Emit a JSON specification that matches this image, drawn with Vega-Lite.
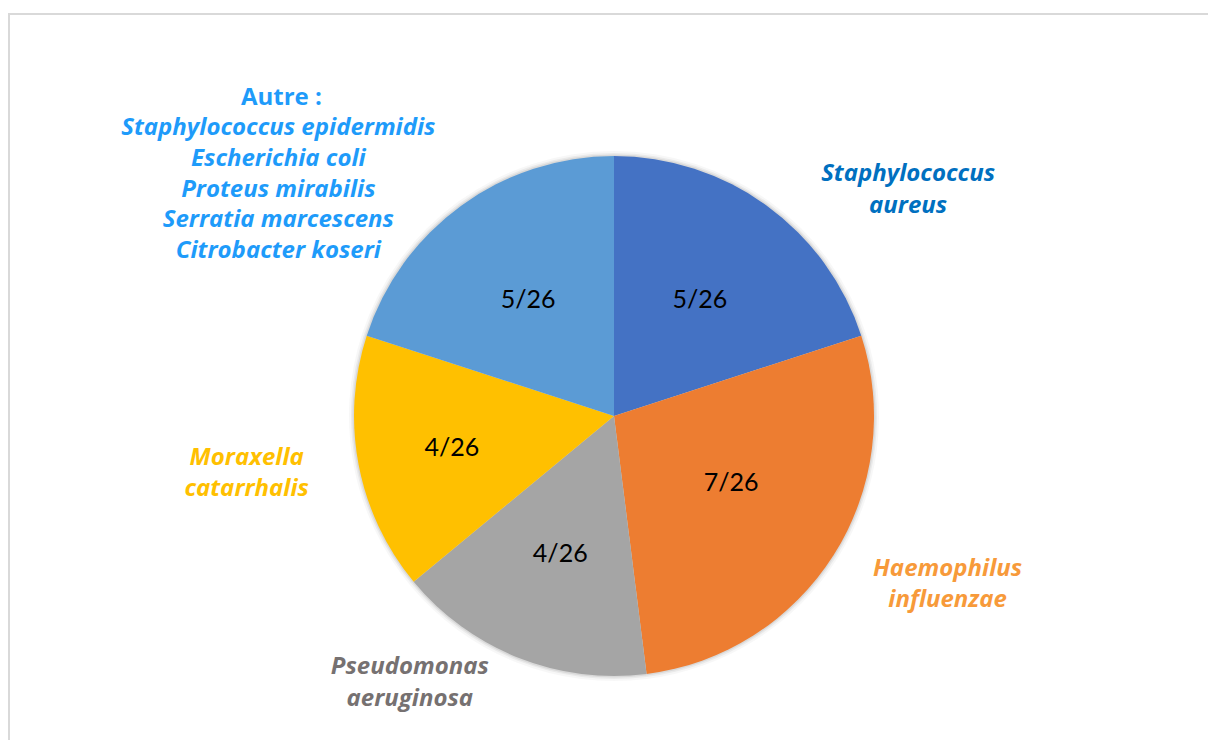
{
  "$schema": "https://vega.github.io/schema/vega-lite/v6.json",
  "width": 1210,
  "height": 804,
  "autosize": {"type": "none"},
  "padding": {"left": 9, "top": 14, "right": -11, "bottom": -78},
  "background": "white",
  "config": {"view": {"stroke": null}, "text": {"font": "Lato"}},
  "data": {"values": [
    {"name": "Staphylococcus aureus", "value": 5, "ord": 1, "frac": "5/26", "label": "Staphylococcus\naureus"},
    {"name": "Haemophilus influenzae", "value": 7, "ord": 2, "frac": "7/26", "label": "Haemophilus\ninfluenzae"},
    {"name": "Pseudomonas aeruginosa", "value": 4, "ord": 3, "frac": "4/26", "label": "Pseudomonas\naeruginosa"},
    {"name": "Moraxella catarrhalis", "value": 4, "ord": 4, "frac": "4/26", "label": "Moraxella\ncatarrhalis"},
    {"name": "Autre", "value": 5, "ord": 5, "frac": "5/26", "header": "Autre :", "label": "Staphylococcus epidermidis\nEscherichia coli\nProteus mirabilis\nSerratia marcescens\nCitrobacter koseri"}
  ]},
  "layer": [
    {
      "data": {"values": [{"frame": 1}]},
      "mark": {"type": "rect", "fill": null, "stroke": "#d9d9d9", "strokeWidth": 2},
      "encoding": {}
    },
    {
      "encoding": {
        "theta": {"field": "value", "type": "quantitative", "stack": true},
        "order": {"field": "ord", "type": "quantitative"}
      },
      "layer": [
        {"mark": {"type": "arc", "outerRadius": 265, "color": "#000000", "opacity": 0.03}},
        {"mark": {"type": "arc", "outerRadius": 263, "color": "#000000", "opacity": 0.05}},
        {"mark": {"type": "arc", "outerRadius": 261.5, "color": "#000000", "opacity": 0.07}},
        {
          "mark": {"type": "arc", "outerRadius": 260},
          "encoding": {
            "color": {"field": "name", "type": "nominal", "legend": null,
              "scale": {"domain": ["Staphylococcus aureus", "Haemophilus influenzae", "Pseudomonas aeruginosa", "Moraxella catarrhalis", "Autre"],
                        "range": ["#4472C4", "#ED7D31", "#A5A5A5", "#FFC000", "#5B9BD5"]}}
          }
        },
        {
          "mark": {"type": "text", "radius": 146, "dy": 2, "fontSize": 25, "color": "#000000", "baseline": "middle", "align": "center"},
          "encoding": {"text": {"condition": {"test": "datum.ord === 1 || datum.ord === 3 || datum.ord === 5", "field": "frac"}, "value": ""}}
        },
        {
          "mark": {"type": "text", "radius": 134, "dx": 4, "dy": -5, "fontSize": 25, "color": "#000000", "baseline": "middle", "align": "center"},
          "encoding": {"text": {"condition": {"test": "datum.ord === 2", "field": "frac"}, "value": ""}}
        },
        {
          "mark": {"type": "text", "radius": 165, "dy": 1, "fontSize": 25, "color": "#000000", "baseline": "middle", "align": "center"},
          "encoding": {"text": {"condition": {"test": "datum.ord === 4", "field": "frac"}, "value": ""}}
        },
        {
          "mark": {"type": "text", "radius": 355.7, "dx": 85, "dy": 46, "font": "Open Sans", "fontSize": 24, "fontWeight": "bold", "fontStyle": "italic", "color": "#0070C0", "baseline": "middle", "align": "center", "lineBreak": "\n", "lineHeight": 31.5},
          "encoding": {"text": {"condition": {"test": "datum.ord === 1", "field": "label"}, "value": ""}}
        },
        {
          "mark": {"type": "text", "radius": 372.6, "dx": 19, "dy": -47, "font": "Open Sans", "fontSize": 24, "fontWeight": "bold", "fontStyle": "italic", "color": "#F79A3A", "baseline": "middle", "align": "center", "lineBreak": "\n", "lineHeight": 31.5},
          "encoding": {"text": {"condition": {"test": "datum.ord === 2", "field": "label"}, "value": ""}}
        },
        {
          "mark": {"type": "text", "radius": 323.8, "dx": -85, "dy": -50.5, "font": "Open Sans", "fontSize": 24, "fontWeight": "bold", "fontStyle": "italic", "color": "#767171", "baseline": "middle", "align": "center", "lineBreak": "\n", "lineHeight": 32.5},
          "encoding": {"text": {"condition": {"test": "datum.ord === 3", "field": "label"}, "value": ""}}
        },
        {
          "mark": {"type": "text", "radius": 371.9, "dx": -2, "dy": -28, "font": "Open Sans", "fontSize": 24, "fontWeight": "bold", "fontStyle": "italic", "color": "#FFC000", "baseline": "middle", "align": "center", "lineBreak": "\n", "lineHeight": 31.5},
          "encoding": {"text": {"condition": {"test": "datum.ord === 4", "field": "label"}, "value": ""}}
        },
        {
          "mark": {"type": "text", "radius": 392.4, "dx": -105, "dy": 29.5, "font": "Open Sans", "fontSize": 24, "fontWeight": "bold", "fontStyle": "italic", "color": "#1E9BFA", "baseline": "middle", "align": "center", "lineBreak": "\n", "lineHeight": 30.75},
          "encoding": {"text": {"condition": {"test": "datum.ord === 5", "field": "label"}, "value": ""}}
        },
        {
          "mark": {"type": "text", "radius": 392.4, "dx": -102, "dy": -0.5, "font": "Open Sans", "fontSize": 24, "fontWeight": "bold", "color": "#1E9BFA", "baseline": "middle", "align": "center"},
          "encoding": {"text": {"condition": {"test": "datum.ord === 5", "field": "header"}, "value": ""}}
        }
      ]
    }
  ]
}
